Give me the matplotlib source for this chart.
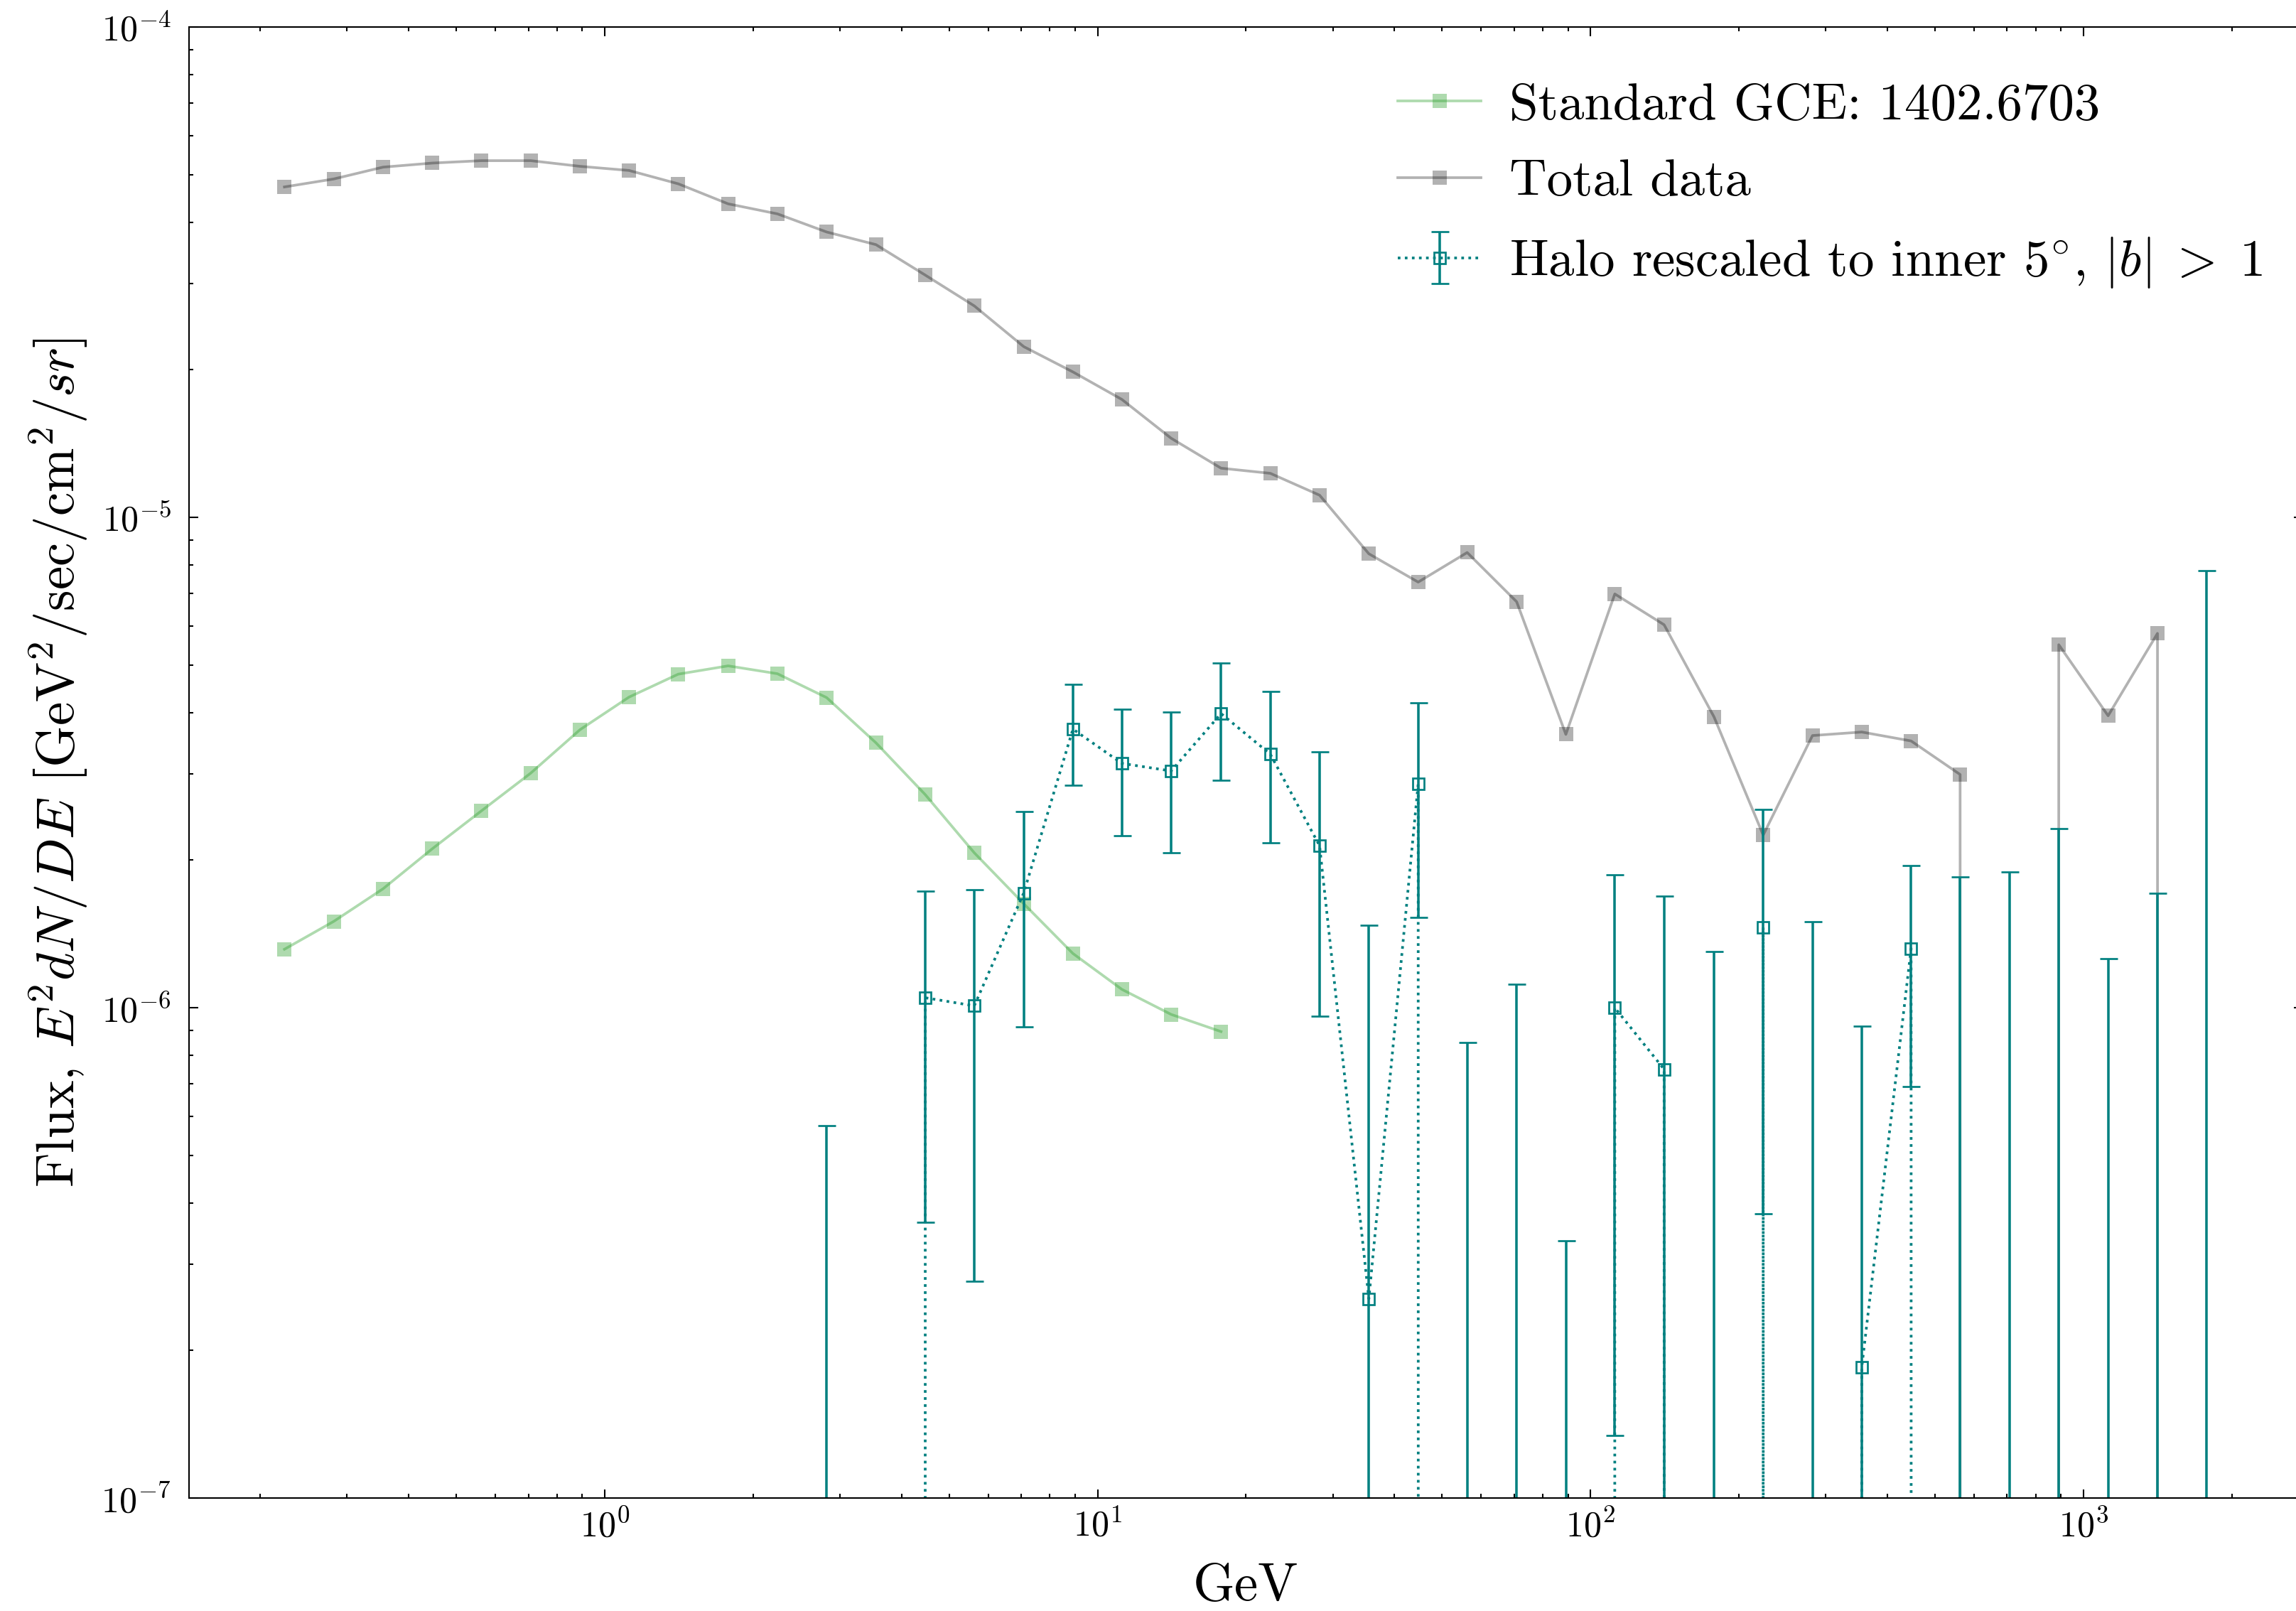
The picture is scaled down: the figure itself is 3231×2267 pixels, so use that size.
"""
plot.py
-------
Flux spectrum: standard GCE, total data and rescaled halo template.
"""

import matplotlib
matplotlib.use("Agg")
import matplotlib.pyplot as plt

# ---------------------------------------------------------------------------
# Data
# ---------------------------------------------------------------------------

energy = [0.224, 0.282, 0.355, 0.447, 0.562, 0.708, 0.891, 1.12, 1.41, 1.78,
          2.24, 2.82, 3.55, 4.47, 5.62, 7.08, 8.91, 11.2, 14.1, 17.8,
          22.4, 28.2, 35.5, 44.7, 56.2, 70.8, 89.1, 112.0, 141.0, 178.0,
          224.0, 282.0, 355.0, 447.0, 562.0, 708.0, 891.0, 1122.0, 1413.0, 1778.0]

# standard GCE spectrum (first 20 bins)
gce_flux = [1.316e-6, 1.50e-6, 1.748e-6, 2.11e-6, 2.52e-6, 3.01e-6, 3.69e-6, 4.30e-6,
            4.79e-6, 4.98e-6, 4.80e-6, 4.29e-6, 3.47e-6, 2.72e-6, 2.07e-6, 1.63e-6,
            1.29e-6, 1.09e-6, 9.69e-7, 8.94e-7]

# total data (zeros are empty bins)
total_flux = [4.72e-5, 4.90e-5, 5.18e-5, 5.28e-5, 5.34e-5, 5.34e-5, 5.20e-5, 5.10e-5,
              4.79e-5, 4.36e-5, 4.16e-5, 3.82e-5, 3.60e-5, 3.12e-5, 2.70e-5, 2.23e-5,
              1.98e-5, 1.74e-5, 1.45e-5, 1.26e-5, 1.23e-5, 1.11e-5, 8.43e-6, 7.38e-6,
              8.48e-6, 6.73e-6, 3.61e-6, 6.98e-6, 6.04e-6, 3.92e-6, 2.25e-6, 3.59e-6,
              3.65e-6, 3.50e-6, 2.99e-6, 0.0, 5.50e-6, 3.94e-6, 5.80e-6, 0.0]

# halo rescaled to inner 5 deg, bins 11..39 (negative = below zero)
halo_flux = [-2.0e-7, -6.0e-7, 1.048e-6, 1.009e-6, 1.714e-6, 3.70e-6, 3.15e-6, 3.04e-6,
             3.98e-6, 3.29e-6, 2.14e-6, 2.55e-7, 2.86e-6, -4.0e-7, -2.5e-7, -1.2e-6,
             1.00e-6, 7.49e-7, -5.0e-7, 1.46e-6, -5.0e-7, 1.85e-7, 1.32e-6, -5.0e-7,
             -6.0e-7, -8.0e-7, -1.5e-6, -1.5e-6, -2.0e-6]
halo_err = [7.75e-7, 6.5e-7, 6.83e-7, 7.32e-7, 8.0e-7, 8.6e-7, 9.1e-7, 9.7e-7,
            1.07e-6, 1.12e-6, 1.18e-6, 1.22e-6, 1.33e-6, 1.248e-6, 1.367e-6, 1.535e-6,
            8.66e-7, 9.4e-7, 1.8e-6, 1.08e-6, 1.997e-6, 7.31e-7, 6.3e-7, 2.35e-6,
            2.49e-6, 3.12e-6, 2.76e-6, 3.21e-6, 9.8e-6]

# ---------------------------------------------------------------------------
# Style
# ---------------------------------------------------------------------------

plt.rcParams.update({
    "font.family": "serif",
    "font.serif": ["cmr10"],
    "mathtext.fontset": "cm",
    "axes.formatter.use_mathtext": True,
    "axes.unicode_minus": True,
    "axes.linewidth": 0.5,
    "xtick.direction": "in",
    "ytick.direction": "in",
    "xtick.top": True,
    "ytick.right": True,
    "xtick.major.size": 3,
    "ytick.major.size": 3,
    "xtick.minor.size": 1.5,
    "ytick.minor.size": 1.5,
    "xtick.major.width": 0.5,
    "ytick.major.width": 0.5,
    "xtick.minor.width": 0.5,
    "ytick.minor.width": 0.5,
})

fig = plt.figure(figsize=(3231 / 300, 2267 / 300), dpi=300)
ax = fig.add_axes([0.0823, 0.0701, 0.9206, 0.9131])
ax.set_xscale("log")
ax.set_yscale("log")

ax.plot(energy[:len(gce_flux)], gce_flux, marker="s", markersize=4.8, mew=0, lw=0.9,
        color="tab:green", alpha=0.38, label="Standard GCE: 1402.6703")
ax.plot(energy, total_flux, marker="s", markersize=4.8, mew=0, lw=0.9,
        color="k", alpha=0.3, label="Total data")
ax.errorbar(energy[11:], halo_flux, yerr=halo_err, marker="s", markersize=3.9,
            mfc="none", mew=0.65, ls=":", lw=0.9, elinewidth=0.85, capsize=3,
            capthick=0.8, color="teal",
            label=r"Halo rescaled to inner 5$^{\circ}$, $|b|\;>\;1$")

ax.set_xlim(0.1434, 2784)
ax.set_ylim(1e-7, 1e-4)
ax.tick_params(which="both", labelsize=12)
ax.tick_params(axis="y", which="major", pad=6)

ax.set_xlabel("GeV", fontsize=18, labelpad=6.5)
ax.set_ylabel(r"Flux, $E^2dN/DE$ [GeV$^2$/sec/cm$^2$/$sr$]", fontsize=18)

ax.legend(loc="upper left", bbox_to_anchor=(0.572, 0.962), frameon=False,
          fontsize=17.5, handlelength=1.6, handletextpad=0.55, labelspacing=0.58,
          borderpad=0.0, borderaxespad=0.0)

fig.savefig("out.png", dpi=300)
